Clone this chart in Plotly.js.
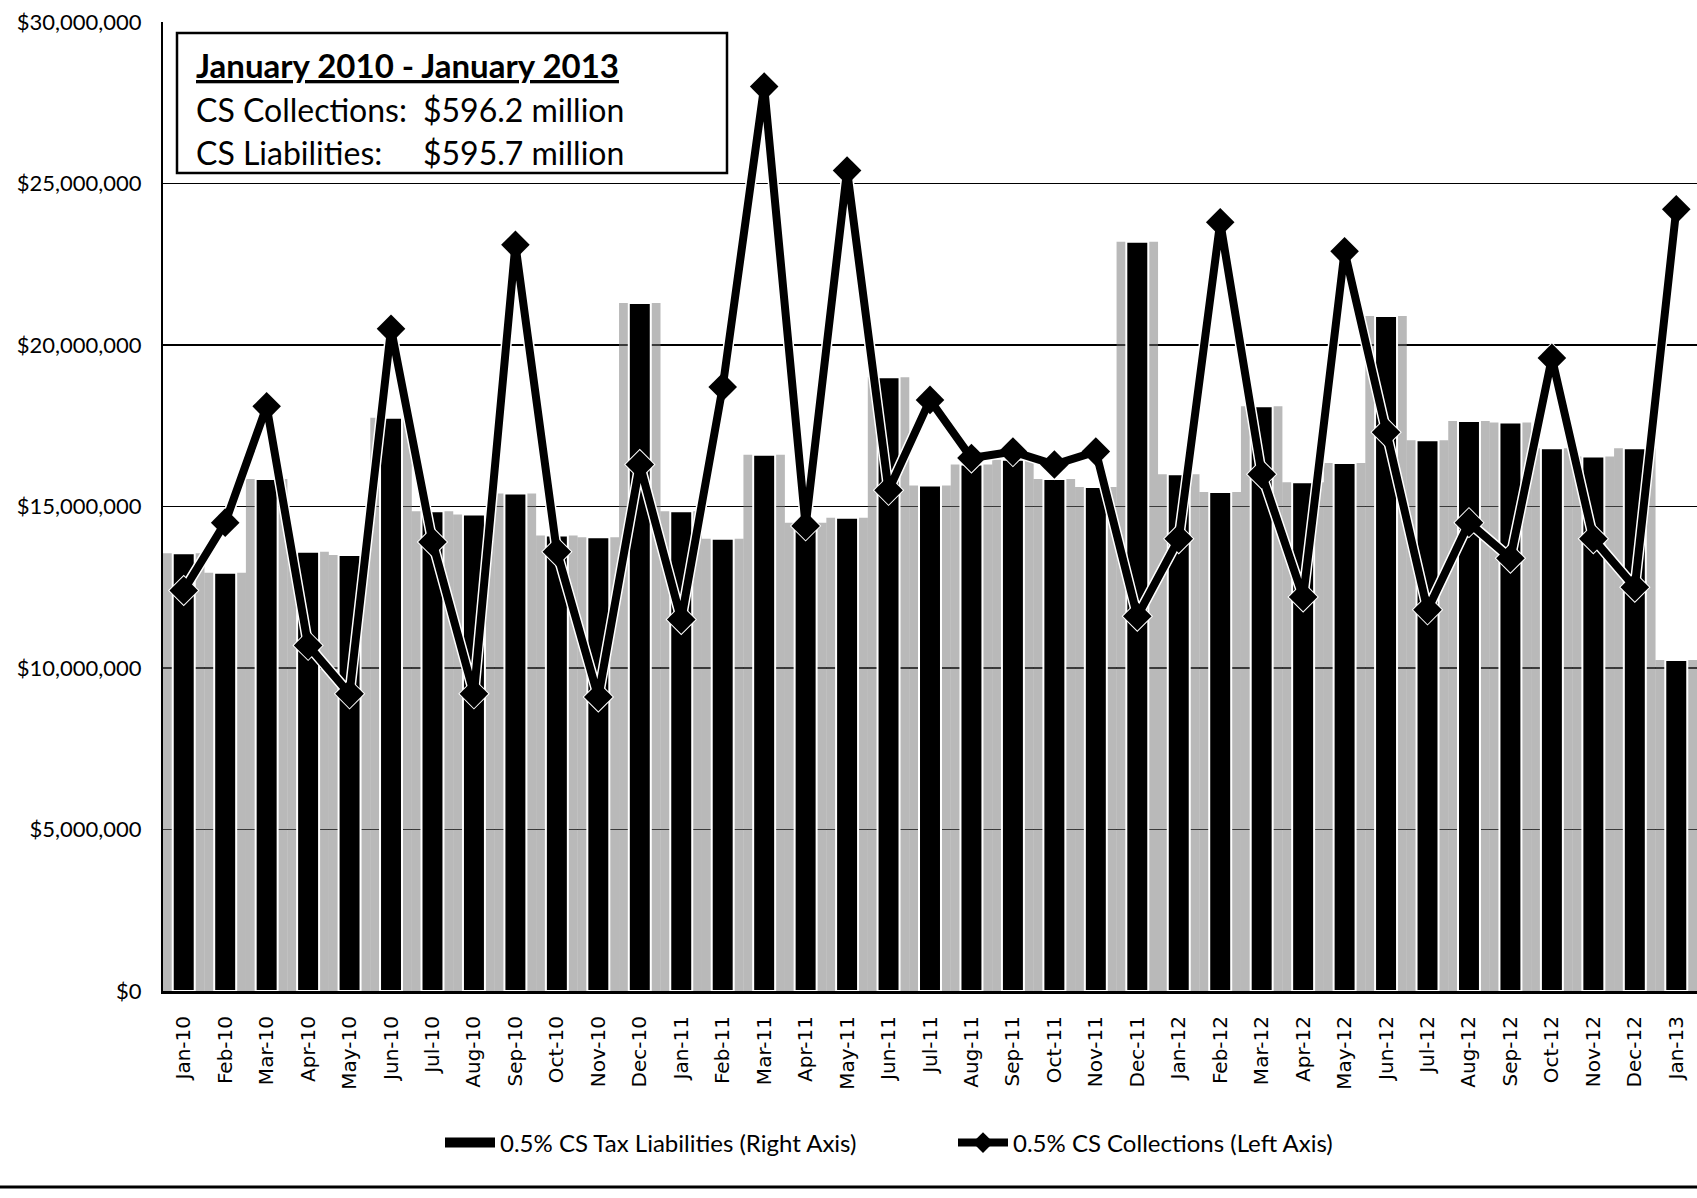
<!DOCTYPE html>
<html>
<head>
<meta charset="utf-8">
<script src="https://cdn.plot.ly/plotly-3.0.1.min.js"></script>
<style>
  html, body { margin: 0; padding: 0; background: #ffffff; }
  #chart { width: 1697px; height: 1198px; }
</style>
</head>
<body>
<div id="chart"></div>
<script>
// ---- data ----
const months = ['Jan-10','Feb-10','Mar-10','Apr-10','May-10','Jun-10','Jul-10','Aug-10','Sep-10','Oct-10','Nov-10','Dec-10',
                'Jan-11','Feb-11','Mar-11','Apr-11','May-11','Jun-11','Jul-11','Aug-11','Sep-11','Oct-11','Nov-11','Dec-11',
                'Jan-12','Feb-12','Mar-12','Apr-12','May-12','Jun-12','Jul-12','Aug-12','Sep-12','Oct-12','Nov-12','Dec-12',
                'Jan-13'];

// 0.5% CS Tax Liabilities (Right Axis) - bars
const liabilities = [13550000,12950000,15850000,13600000,13500000,17750000,14850000,14750000,15400000,14100000,14050000,21300000,
                     14850000,14000000,16600000,14500000,14650000,19000000,15650000,16300000,16450000,15850000,15600000,23200000,
                     16000000,15450000,18100000,15750000,16350000,20900000,17050000,17650000,17600000,16800000,16550000,16800000,
                     10250000];

// 0.5% CS Collections (Left Axis) - line
const collections = [12400000,14500000,18100000,10700000,9200000,20500000,13900000,9200000,23100000,13600000,9100000,16300000,
                     11500000,18700000,28000000,14400000,25400000,15500000,18300000,16500000,16700000,16300000,16700000,11600000,
                     14000000,23800000,16000000,12200000,22900000,17300000,11800000,14500000,13400000,19600000,14000000,12500000,
                     24200000];

const yTicks = [0, 5000000, 10000000, 15000000, 20000000, 25000000, 30000000];

const boxTitle = 'January 2010 - January 2013';
const boxLabels = ['CS Collections:', 'CS Liabilities:'];
const boxValues = ['$596.2 million', '$595.7 million'];

const nameLiab = '0.5% CS Tax Liabilities (Right Axis)';
const nameColl = '0.5% CS Collections (Left Axis)';

// ---- traces ----
const halo = {
  type: 'bar', x: months, y: liabilities,
  width: 1.0,
  marker: { color: 'rgba(115,115,115,0.5)', line: { width: 0 } },
  showlegend: false, hoverinfo: 'skip'
};
const bars = {
  type: 'bar', x: months, y: liabilities, name: nameLiab,
  width: 0.53,
  marker: { color: '#000000', line: { color: '#ffffff', width: 2 } },
  showlegend: false
};
const barsLegend = {
  type: 'scatter', mode: 'lines', x: [null], y: [null], name: nameLiab,
  line: { color: '#000000', width: 11 },
  showlegend: true, hoverinfo: 'skip'
};
const lineEdge = {
  type: 'scatter', mode: 'lines+markers', x: months, y: collections,
  line: { color: '#ffffff', width: 11 },
  marker: { symbol: 'diamond', size: 22, color: '#000000', line: { color: '#ffffff', width: 2 } },
  showlegend: false, hoverinfo: 'skip'
};
const line = {
  type: 'scatter', mode: 'lines+markers', x: months, y: collections, name: nameColl,
  line: { color: '#000000', width: 8 },
  marker: { symbol: 'diamond', size: 22, color: '#000000' },
  showlegend: true
};

// ---- layout ----
const L = 163, T = 22, W = 1697, H = 1198, B = 207;
const plotW = W - L, plotH = H - T - B;
const px = v => (v - L) / plotW;          // pixel x -> paper
const py = v => (H - B - v) / plotH;      // pixel y -> paper

const boxFont = { family: 'Lato, sans-serif', size: 32, color: '#000000' };

const layout = {
  width: W, height: H,
  margin: { l: L, r: 0, t: T, b: B, pad: 0 },
  paper_bgcolor: '#ffffff', plot_bgcolor: '#ffffff',
  barmode: 'overlay',
  font: { family: 'Lato, "Open Sans", sans-serif', color: '#000000' },
  xaxis: {
    type: 'category', range: [-0.5, months.length - 0.5],
    tickangle: -90,
    tickfont: { family: '"DejaVu Sans", sans-serif', size: 20, color: '#000000' },
    ticks: 'outside', ticklen: 14, tickcolor: 'rgba(0,0,0,0)',
    showline: true, linecolor: '#000000', linewidth: 3,
    showgrid: false, zeroline: false, fixedrange: true
  },
  yaxis: {
    range: [0, 30000000], tickvals: yTicks, tickformat: '$,.0f',
    tickfont: { family: 'Lato, sans-serif', size: 22, color: '#000000' },
    ticks: 'outside', ticklen: 15, tickcolor: 'rgba(0,0,0,0)',
    showline: true, linecolor: '#000000', linewidth: 2,
    showgrid: true, gridcolor: '#000000', gridwidth: 1.5,
    zeroline: false, fixedrange: true
  },
  legend: {
    orientation: 'h', x: px(440), xanchor: 'left', y: py(1143), yanchor: 'middle',
    font: { family: 'Lato, sans-serif', size: 24, color: '#000000' },
    itemwidth: 50, entrywidth: 448, entrywidthmode: 'pixels',
    bgcolor: 'rgba(0,0,0,0)', traceorder: 'normal'
  },
  shapes: [
    { type: 'rect', xref: 'paper', yref: 'paper', x0: px(177), x1: px(727), y0: py(173), y1: py(33),
      fillcolor: '#ffffff', line: { color: '#000000', width: 2.5 }, layer: 'above' },
    { type: 'line', xref: 'paper', yref: 'paper', x0: px(0), x1: 1, y0: py(1187), y1: py(1187),
      line: { color: '#000000', width: 3 } }
  ],
  annotations: [
    { xref: 'paper', yref: 'paper', x: px(194), y: py(65), xanchor: 'left', yanchor: 'middle', showarrow: false,
      text: '<b><u>' + boxTitle + '</u></b>', font: { family: 'Lato, sans-serif', size: 33, color: '#000000' } },
    { xref: 'paper', yref: 'paper', x: px(194), y: py(109), xanchor: 'left', yanchor: 'middle', showarrow: false,
      text: boxLabels[0], font: boxFont },
    { xref: 'paper', yref: 'paper', x: px(421), y: py(109), xanchor: 'left', yanchor: 'middle', showarrow: false,
      text: boxValues[0], font: boxFont },
    { xref: 'paper', yref: 'paper', x: px(194), y: py(152), xanchor: 'left', yanchor: 'middle', showarrow: false,
      text: boxLabels[1], font: boxFont },
    { xref: 'paper', yref: 'paper', x: px(421), y: py(152), xanchor: 'left', yanchor: 'middle', showarrow: false,
      text: boxValues[1], font: boxFont }
  ]
};

Plotly.newPlot('chart', [halo, bars, barsLegend, lineEdge, line], layout, { displayModeBar: false, staticPlot: true });
</script>
</body>
</html>
